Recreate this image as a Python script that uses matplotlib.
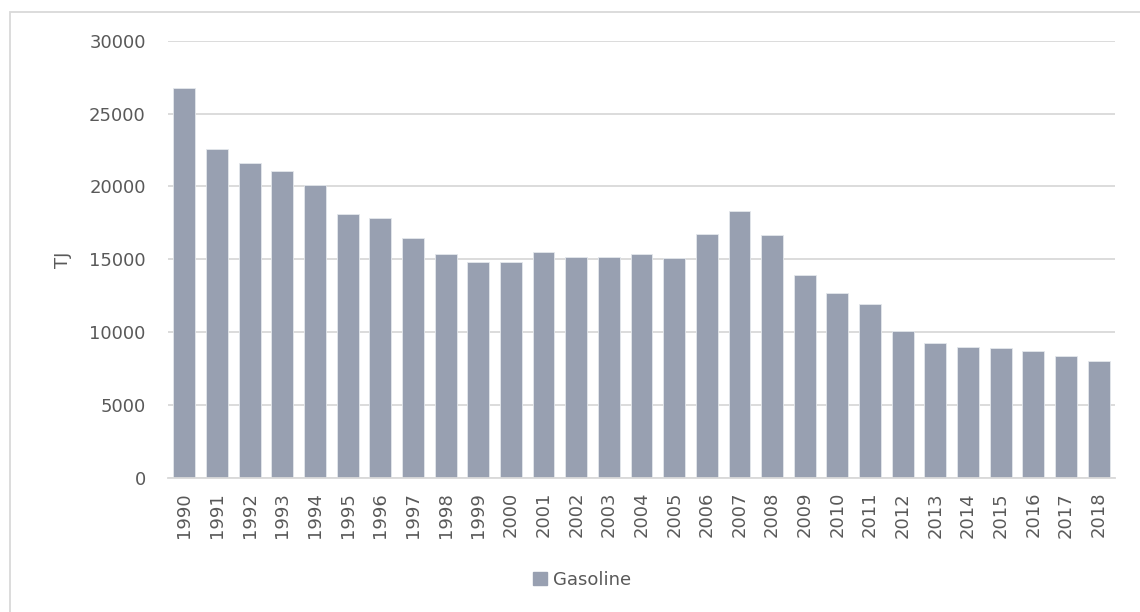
import matplotlib
matplotlib.use('Agg')

import matplotlib.pyplot as plt
import matplotlib.patches as mpatches
import numpy as np

years = [str(y) for y in range(1990, 2019)]
gasoline = [26770, 22570, 21620, 21030, 20080, 18110, 17850, 16480, 15360, 14840,
            14840, 15520, 15180, 15180, 15340, 15110, 16710, 18290, 16650, 13900,
            12690, 11910, 10100, 9240, 8990, 8890, 8730, 8390, 8050]
yticks = [0, 5000, 10000, 15000, 20000, 25000, 30000]

bar_color = '#98A0B1'
grid_color = '#D9D9D9'
text_color = '#595959'

fig = plt.figure(figsize=(11.4, 6.12), dpi=100)
ax = fig.add_axes([168 / 1140, 134 / 612, 947 / 1140, (478 - 40.7) / 612])

x = np.arange(len(years))
ax.bar(x, gasoline, width=0.67, color=bar_color, edgecolor='#E4E7EC', linewidth=0.6,
       zorder=3, label='Gasoline')

ax.set_xlim(-0.5, len(years) - 0.5)
ax.set_ylim(0, 30000)
ax.set_yticks(yticks)
ax.set_yticklabels([str(v) for v in yticks])
ax.set_xticks(x)
ax.set_xticklabels(years, rotation=90)

ax.grid(axis='y', color=grid_color, linewidth=1.3, zorder=0)
for s in ['top', 'right', 'left']:
    ax.spines[s].set_visible(False)
ax.spines['bottom'].set_color(grid_color)
ax.spines['bottom'].set_linewidth(1.3)
ax.spines['bottom'].set_zorder(4)

ax.tick_params(axis='both', length=0, labelsize=13, colors=text_color)
ax.tick_params(axis='y', pad=16)
ax.tick_params(axis='x', pad=10)

ax.set_ylabel('TJ', fontsize=13, color=text_color, labelpad=12)

handle = mpatches.Patch(color=bar_color)
fig.legend([handle], ['Gasoline'], loc='center', bbox_to_anchor=(582 / 1140, 1 - 580 / 612),
           frameon=False, fontsize=13, handlelength=0.75, handleheight=0.75,
           handletextpad=0.35, labelcolor=text_color)

border = mpatches.Rectangle((10 / 1140, -0.05), 1.1, 1 - 12 / 612 + 0.05,
                            transform=fig.transFigure, fill=False,
                            edgecolor=grid_color, linewidth=1.3)
fig.patches.append(border)

out_png = './out.png'
plt.savefig(out_png, dpi=100)
